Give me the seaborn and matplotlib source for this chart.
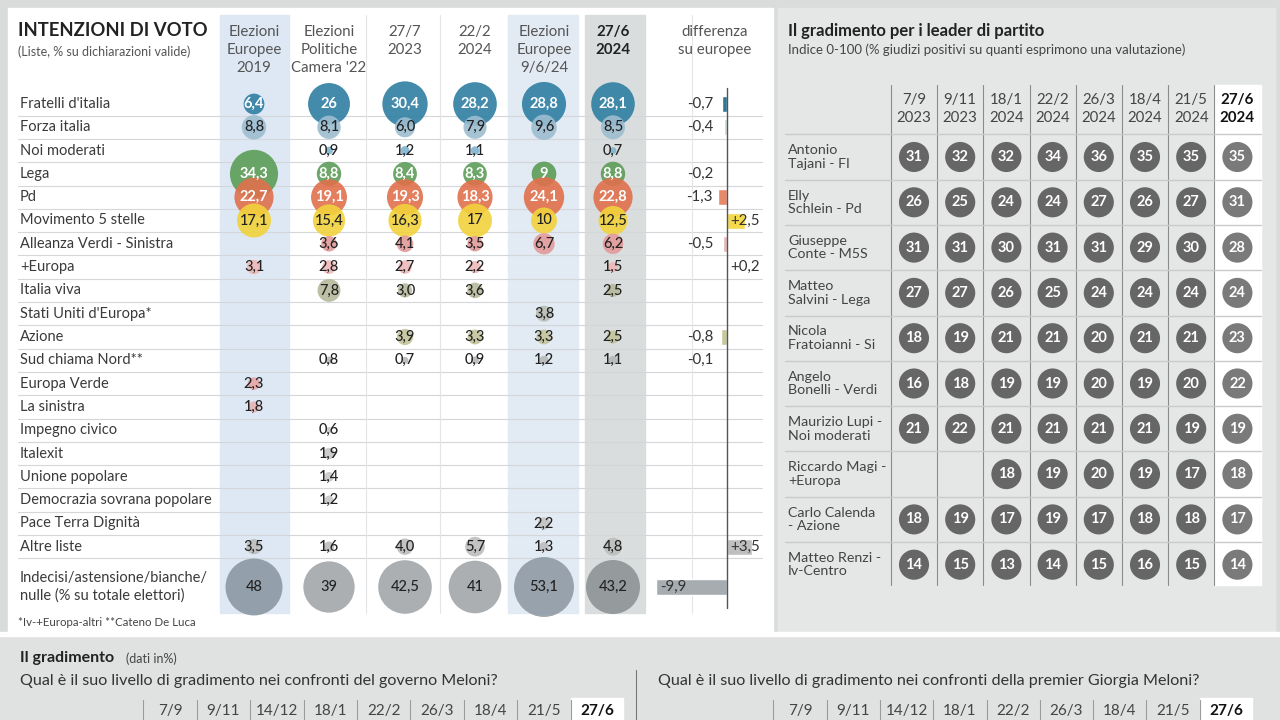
import pandas as pd
import seaborn as sns
import matplotlib.pyplot as plt
from matplotlib.patches import Rectangle

# ------------------ Data: intenzioni di voto ------------------
parties = ["Fratelli d'italia", "Forza italia", "Noi moderati", "Lega", "Pd",
           "Movimento 5 stelle", "Alleanza Verdi - Sinistra", "+Europa", "Italia viva",
           "Stati Uniti d'Europa*", "Azione", "Sud chiama Nord**", "Europa Verde",
           "La sinistra", "Impegno civico", "Italexit", "Unione popolare",
           "Democrazia sovrana popolare", "Pace Terra Dignità", "Altre liste",
           "Indecisi/astensione/bianche/\nnulle (% su totale elettori)"]

vote_headers = ["Elezioni\nEuropee\n2019", "Elezioni\nPolitiche\nCamera '22",
                "27/7\n2023", "22/2\n2024", "Elezioni\nEuropee\n9/6/24", "27/6\n2024"]

eu_2019 = ["6,4", "8,8", None, "34,3", "22,7", "17,1", None, "3,1", None, None, None, None,
           "2,3", "1,8", None, None, None, None, None, "3,5", "48"]
camera_22 = ["26", "8,1", "0,9", "8,8", "19,1", "15,4", "3,6", "2,8", "7,8", None, None, "0,8",
             None, None, "0,6", "1,9", "1,4", "1,2", None, "1,6", "39"]
jul_2023 = ["30,4", "6,0", "1,2", "8,4", "19,3", "16,3", "4,1", "2,7", "3,0", None, "3,9", "0,7",
            None, None, None, None, None, None, None, "4,0", "42,5"]
feb_2024 = ["28,2", "7,9", "1,1", "8,3", "18,3", "17", "3,5", "2,2", "3,6", None, "3,3", "0,9",
            None, None, None, None, None, None, None, "5,7", "41"]
eu_2024 = ["28,8", "9,6", None, "9", "24,1", "10", "6,7", None, None, "3,8", "3,3", "1,2",
           None, None, None, None, None, None, "2,2", "1,3", "53,1"]
jun_2024 = ["28,1", "8,5", "0,7", "8,8", "22,8", "12,5", "6,2", "1,5", "2,5", None, "2,5", "1,1",
            None, None, None, None, None, None, None, "4,8", "43,2"]
vote_columns = [eu_2019, camera_22, jul_2023, feb_2024, eu_2024, jun_2024]

diff_europee = ["-0,7", "-0,4", None, "-0,2", "-1,3", "+2,5", "-0,5", "+0,2", None, None,
                "-0,8", "-0,1", None, None, None, None, None, None, None, "+3,5", "-9,9"]

party_colors = ["#2f7fa2", "#9dbdd0", "#7fb3d0", "#5c9d58", "#e0704c", "#f2d23c", "#e39a9a",
                "#efb9b9", "#b7b99c", "#b9bdb3", "#c3c49c", "#b5b8b8", "#e8a6a6", "#e7b3b3",
                "#c8c8c8", "#c8c8c8", "#c8c8c8", "#c8c8c8", "#c2c2c2", "#bdbdbd", "#9aa0a4"]
indecisi_colors = ["#8b99a4", "#a2a6a9", "#a2a6a9", "#a2a6a9", "#8f9ba5", "#8e9396"]
diff_colors = ["#2d7898", "#c9d5dc", None, "#9cc49a", "#e8896a", "#f4d94a", "#e8b4b4", "#efc9c9",
               None, None, "#c8c89c", "#c6c6c6", None, None, None, None, None, None, None,
               "#bfbfbf", "#a6acb0"]
white_text_rows = [0, 3, 4]

# ------------------ Data: leader ------------------
leader_dates = ["7/9", "9/11", "18/1", "22/2", "26/3", "18/4", "21/5", "27/6"]
leader_years = ["2023", "2023", "2024", "2024", "2024", "2024", "2024", "2024"]
leaders = ["Antonio\nTajani - FI", "Elly\nSchlein - Pd", "Giuseppe\nConte - M5S",
           "Matteo\nSalvini - Lega", "Nicola\nFratoianni - Si", "Angelo\nBonelli - Verdi",
           "Maurizio Lupi -\nNoi moderati", "Riccardo Magi -\n+Europa",
           "Carlo Calenda\n- Azione", "Matteo Renzi -\nIv-Centro"]
tajani = [31, 32, 32, 34, 36, 35, 35, 35]
schlein = [26, 25, 24, 24, 27, 26, 27, 31]
conte = [31, 31, 30, 31, 31, 29, 30, 28]
salvini = [27, 27, 26, 25, 24, 24, 24, 24]
fratoianni = [18, 19, 21, 21, 20, 21, 21, 23]
bonelli = [16, 18, 19, 19, 20, 19, 20, 22]
lupi = [21, 22, 21, 21, 21, 21, 19, 19]
magi = [None, None, 18, 19, 20, 19, 17, 18]
calenda = [18, 19, 17, 19, 17, 18, 18, 17]
renzi = [14, 15, 13, 14, 15, 16, 15, 14]
leader_scores = [tajani, schlein, conte, salvini, fratoianni, bonelli, lupi, magi, calenda, renzi]

# ------------------ Data: gradimento governo / premier ------------------
grad_dates = ["7/9", "9/11", "14/12", "18/1", "22/2", "26/3", "18/4", "21/5", "27/6"]

# ------------------ Layout ------------------
col_x = [254, 329, 405, 475, 544, 613]
row_y0, row_h, indecisi_y = 104, 23.3, 587
zero_x, diff_scale = 727, 7.2
lead_x0, lead_dx, lead_y0, lead_dy = 914, 46.2, 157, 45.3

sns.set_style("white")
plt.rcParams['font.family'] = ['Lato', 'DejaVu Sans']

fig = plt.figure(figsize=(12.8, 7.2), dpi=100, facecolor='#d9dcdb')
ax = fig.add_axes([0, 0, 1, 1])
ax.set_xlim(0, 1280)
ax.set_ylim(720, 0)
ax.axis('off')

# panels
ax.add_patch(Rectangle((0, 636), 1280, 84, color='#dfe2e1', zorder=0))
ax.add_patch(Rectangle((8, 8), 765, 624, color='white', zorder=0))
ax.add_patch(Rectangle((778, 8), 497, 624, color='#e5e7e6', zorder=0))

# column bands
ax.add_patch(Rectangle((220, 15), 69, 598, color='#dde8f4', zorder=0.5))
ax.add_patch(Rectangle((508, 15), 70, 598, color='#e2eaf3', zorder=0.5))
ax.add_patch(Rectangle((585, 15), 60, 598, color='#dadddd', zorder=0.5))

def row_y(i):
    return indecisi_y if i == len(parties) - 1 else row_y0 + i * row_h

# grid lines
for i in range(len(parties) - 1):
    y = row_y(i) + row_h / 2
    ax.plot([18, 762], [y, y], color='#d3d7d9', lw=0.8, zorder=0.8)
for x in [366, 440, 692]:
    ax.plot([x, x], [15, 613], color='#e3e5e6', lw=0.8, zorder=0.8)

# titles
ax.text(18, 31, "INTENZIONI DI VOTO", fontsize=13.3, fontweight='bold', color='#222', va='center')
ax.text(18, 52, "(Liste, % su dichiarazioni valide)", fontsize=9, color='#555', va='center')
for j, h in enumerate(vote_headers):
    ax.text(col_x[j], 25, h, fontsize=10.8, color='#222' if j == 5 else '#555', ha='center', va='top',
            linespacing=1.35, fontweight='bold' if j == 5 else 'normal')
ax.text(715, 25, "differenza\nsu europee", fontsize=10.8, color='#555', ha='center', va='top', linespacing=1.35)

for i, p in enumerate(parties):
    ax.text(20, row_y(i), p, fontsize=10.5, color='#3a3a3a', va='center', linespacing=1.3)

# bubbles
recs = []
for j, col in enumerate(vote_columns):
    for i, val in enumerate(col):
        if val is None:
            continue
        color = indecisi_colors[j] if i == len(parties) - 1 else party_colors[i]
        recs.append({'px': col_x[j], 'py': row_y(i), 'v': float(val.replace(',', '.')),
                     'label': val, 'color': color, 'row': i})
bub = pd.DataFrame(recs)
sns.scatterplot(data=bub, x='px', y='py', size='v', sizes=(0, 35 * 60), size_norm=(0, 60),
                hue='color', palette={c: c for c in bub['color'].unique()}, alpha=0.9,
                linewidth=0, legend=False, ax=ax, zorder=2)
for r in bub.itertuples():
    white = r.row in white_text_rows
    ax.text(r.px, r.py, r.label, fontsize=10.5, ha='center', va='center', zorder=3,
            color='white' if white else '#222', fontweight='bold' if white else 'medium')

# differenza su europee
ax.plot([zero_x, zero_x], [88, 608], color='#555', lw=1, zorder=2)
for i, val in enumerate(diff_europee):
    if val is None:
        continue
    v = float(val.replace(',', '.'))
    y = row_y(i)
    if diff_colors[i]:
        ax.barh(y, v * diff_scale, left=zero_x, height=16, color=diff_colors[i], zorder=1.5)
    if v < 0 and abs(v) * diff_scale > 20:
        ax.text(zero_x + v * diff_scale + 4, y, val, fontsize=10.8, color='#333', va='center', zorder=3)
    elif v < 0:
        ax.text(713, y, val, fontsize=10.8, color='#333', va='center', ha='right', zorder=3)
    else:
        ax.text(zero_x + 3, y, val, fontsize=10.8, color='#333', va='center', ha='left', zorder=3)

ax.text(18, 623, "*Iv-+Europa-altri **Cateno De Luca", fontsize=8.3, color='#444', va='center')

# ------------------ Leader panel ------------------
ax.text(788, 31, "Il gradimento per i leader di partito", fontsize=12, fontweight='bold', color='#222', va='center')
ax.text(788, 50, "Indice 0-100 (% giudizi positivi su quanti esprimono una valutazione)",
        fontsize=9.5, color='#444', va='center')
last_x = lead_x0 + 7 * lead_dx
ax.add_patch(Rectangle((last_x - 23, 85), 47, 500, color='white', zorder=0.6))
for j in range(len(leader_dates)):
    x = lead_x0 + j * lead_dx
    ax.plot([x - lead_dx / 2, x - lead_dx / 2], [85, 585], color='#8a8c8c', lw=0.8, zorder=0.8)
    bold = j == len(leader_dates) - 1
    ax.text(x, 100, leader_dates[j], fontsize=10.8, ha='center', va='center',
            color='#111' if bold else '#444', fontweight='bold' if bold else 'normal')
    ax.text(x, 118, leader_years[j], fontsize=10.8, ha='center', va='center',
            color='#111' if bold else '#444', fontweight='bold' if bold else 'normal')
for i, name in enumerate(leaders):
    y = lead_y0 + i * lead_dy
    ax.plot([785, 1261], [y - lead_dy / 2, y - lead_dy / 2], color='#c9cbcb', lw=1, zorder=0.8)
    ax.text(788, y, name, fontsize=10.3, color='#444', va='center', linespacing=1.15)

lrecs = []
for i, scores in enumerate(leader_scores):
    for j, s in enumerate(scores):
        if s is None:
            continue
        lrecs.append({'px': lead_x0 + j * lead_dx, 'py': lead_y0 + i * lead_dy, 'score': s,
                      'color': '#7a7a7a' if j == len(scores) - 1 else '#666666'})
lead = pd.DataFrame(lrecs)
sns.scatterplot(data=lead, x='px', y='py', hue='color', palette={c: c for c in lead['color'].unique()},
                s=470, linewidth=0, legend=False, ax=ax, zorder=2)
for r in lead.itertuples():
    ax.text(r.px, r.py, str(r.score), fontsize=10.5, fontweight='bold', color='white',
            ha='center', va='center', zorder=3)

# ------------------ Bottom: gradimento ------------------
ax.add_patch(Rectangle((0, 632), 1280, 4, color='white', zorder=0.2))
ax.text(20, 658, "Il gradimento", fontsize=11.5, fontweight='bold', color='#222', va='center')
ax.text(126, 659, "(dati in%)", fontsize=9, color='#444', va='center')
ax.text(20, 681, "Qual è il suo livello di gradimento nei confronti del governo Meloni?",
        fontsize=11.6, color='#333', va='center')
ax.text(658, 681, "Qual è il suo livello di gradimento nei confronti della premier Giorgia Meloni?",
        fontsize=11.6, color='#333', va='center')
ax.plot([636, 636], [670, 720], color='#777', lw=0.8)
for x0, dx in [(170, 53.4), (800, 53.3)]:
    ax.add_patch(Rectangle((x0 + 8 * dx - 26, 698), 52, 22, color='white', zorder=0.5))
    for j, d in enumerate(grad_dates):
        x = x0 + j * dx
        bold = j == len(grad_dates) - 1
        ax.plot([x - dx / 2, x - dx / 2], [700, 720], color='#9a9c9c', lw=0.8)
        ax.text(x, 711, d, fontsize=11, ha='center', va='center',
                color='#111' if bold else '#444', fontweight='bold' if bold else 'normal')

fig.savefig('out.png', dpi=100, facecolor=fig.get_facecolor())
